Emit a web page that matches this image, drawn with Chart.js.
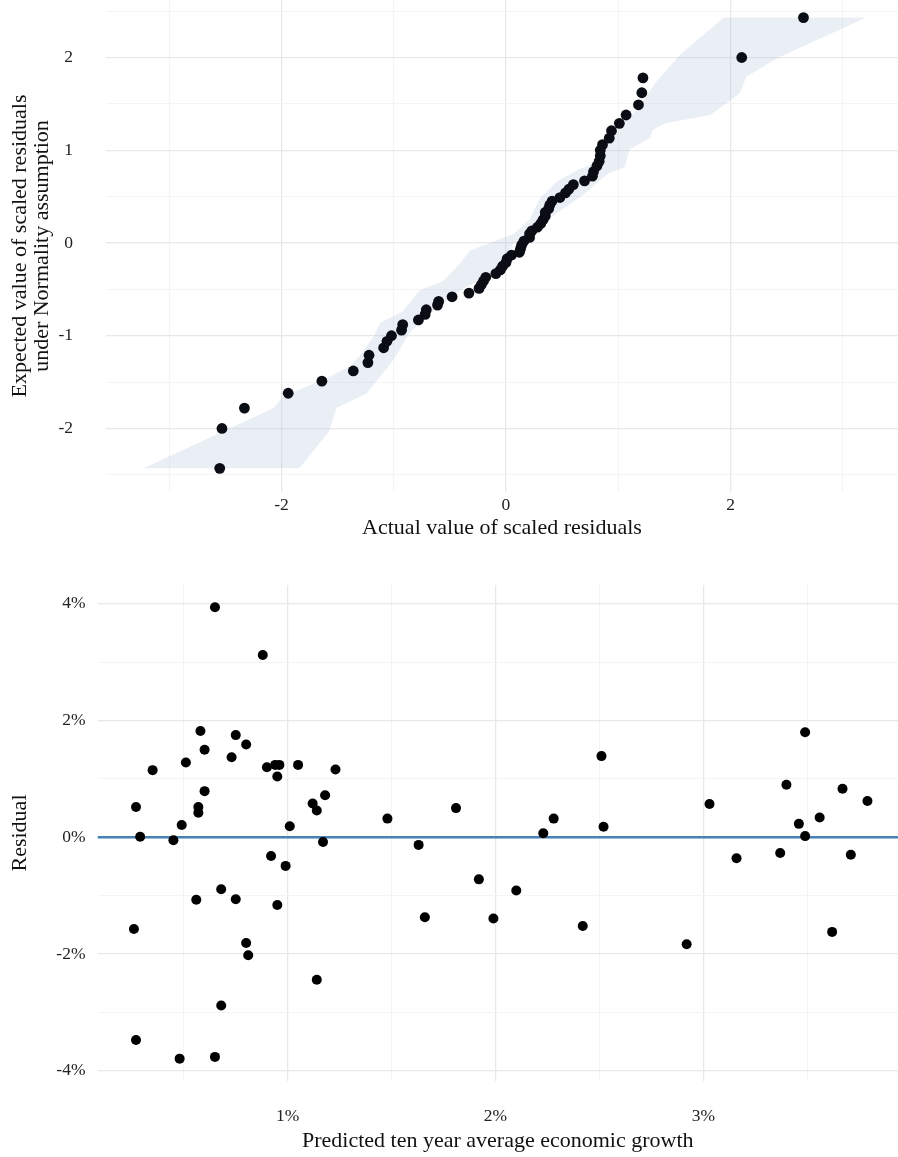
<!DOCTYPE html>
<html>
<head>
<meta charset="utf-8">
<script src="https://cdn.jsdelivr.net/npm/chart.js@4.4.1/dist/chart.umd.min.js"></script>
<style>
  html, body { margin: 0; padding: 0; background: #fff; }
  body { width: 898px; height: 1157px; position: relative; overflow: hidden; }
  .box { position: absolute; left: 0; width: 898px; }
  #qqBox { top: -45px; height: 590px; }
  #resBox { top: 545px; height: 612px; }
</style>
</head>
<body>
<div class="box" id="qqBox"><canvas id="qqChart"></canvas></div>
<div class="box" id="resBox"><canvas id="resChart"></canvas></div>
<script>
// Q-Q plot: sorted scaled residuals (x) against normal quantiles (y)
const qqActual = [
  -2.55, -2.53, -2.33, -1.94, -1.64, -1.36, -1.23, -1.22, -1.09, -1.06, -1.02,
  -0.93, -0.92, -0.78, -0.72, -0.71, -0.61, -0.60, -0.48, -0.33, -0.24, -0.22,
  -0.20, -0.18, -0.09, -0.05, -0.03, 0.00, 0.01, 0.05, 0.12, 0.13, 0.14,
  0.16, 0.21, 0.21, 0.23, 0.28, 0.31, 0.33, 0.35, 0.35, 0.38, 0.39,
  0.41, 0.48, 0.53, 0.56, 0.60, 0.70, 0.77, 0.78, 0.81, 0.83, 0.84,
  0.84, 0.86, 0.92, 0.94, 1.01, 1.07, 1.18, 1.21, 1.22, 2.10, 2.65
];
const qqExpected = [
  -2.43, -2.00, -1.78, -1.62, -1.49, -1.38, -1.29, -1.21, -1.13, -1.06, -1.00,
  -0.94, -0.88, -0.83, -0.77, -0.72, -0.67, -0.63, -0.58, -0.54, -0.49, -0.45,
  -0.41, -0.37, -0.33, -0.29, -0.25, -0.21, -0.17, -0.13, -0.10, -0.06, -0.02,
  0.02, 0.06, 0.10, 0.13, 0.17, 0.21, 0.25, 0.29, 0.33, 0.37, 0.41,
  0.45, 0.49, 0.54, 0.58, 0.63, 0.67, 0.72, 0.77, 0.83, 0.88, 0.94,
  1.00, 1.06, 1.13, 1.21, 1.29, 1.38, 1.49, 1.62, 1.78, 2.00, 2.43
];

// confidence band: left edge and right edge, both bottom to top
const bandLeftY = [-2.43, -1.78, -1.66, -1.44, -1.33, -1.21, -1.01, -0.86, -0.74, -0.51, -0.41, -0.22, -0.08,
  0.03, 0.10, 0.25, 0.48, 0.66, 0.80, 0.86, 1.08, 1.43, 1.74, 2.03, 2.43];
const bandLeftX = [-3.23, -2.07, -1.99, -1.57, -1.39, -1.30, -1.18, -1.12, -0.92, -0.77, -0.56, -0.41, -0.32,
  -0.08, 0.07, 0.21, 0.30, 0.45, 0.66, 0.80, 0.90, 1.16, 1.34, 1.55, 1.94];
const bandRightY = [-2.43, -2.04, -1.78, -1.62, -1.44, -1.26, -0.97, -0.83, -0.65, -0.47, -0.36, -0.17, 0.00,
  0.10, 0.25, 0.39, 0.55, 0.74, 0.82, 1.01, 1.13, 1.22, 1.29, 1.38, 1.61, 1.79, 1.99, 2.43];
const bandRightX = [-1.84, -1.58, -1.51, -1.24, -1.12, -1.00, -0.86, -0.74, -0.56, -0.35, -0.14, -0.02, 0.07,
  0.21, 0.36, 0.54, 0.72, 0.90, 1.06, 1.10, 1.28, 1.31, 1.42, 1.82, 2.08, 2.14, 2.41, 3.21];

const qqXTicks = [-3, -2, -1, 0, 1, 2, 3];
const qqXLabels = [-2, 0, 2];
const qqYTicks = [-2.5, -2, -1.5, -1, -0.5, 0, 0.5, 1, 1.5, 2, 2.5];
const qqYLabels = [-2, -1, 0, 1, 2];

// residuals vs predicted growth (percent)
const predictedGrowth = [
  0.65, 0.88, 0.58, 0.75, 0.80, 0.60, 0.51, 0.73, 0.35, 0.90, 0.94,
  0.96, 0.95, 1.05, 1.23, 0.60, 0.57, 0.57, 0.27, 0.49, 0.29, 0.45,
  1.12, 1.14, 1.18, 1.01, 1.17, 1.48, 1.63, 1.81, 0.92, 0.99, 0.68,
  0.56, 0.75, 0.95, 0.26, 1.66, 1.92, 1.99, 0.80, 0.81, 1.14, 0.68,
  0.27, 0.48, 0.65, 2.51, 3.49, 3.03, 2.28, 2.23, 2.52, 3.40, 3.67,
  3.79, 3.46, 3.56, 3.49, 3.16, 3.37, 3.71, 2.10, 2.42, 2.92, 3.62
];
const residual = [
  3.94, 3.12, 1.82, 1.75, 1.59, 1.50, 1.28, 1.37, 1.15, 1.20, 1.24,
  1.24, 1.04, 1.24, 1.16, 0.79, 0.52, 0.42, 0.52, 0.21, 0.01, -0.05,
  0.58, 0.46, 0.72, 0.19, -0.08, 0.32, -0.13, 0.50, -0.32, -0.49, -0.89,
  -1.07, -1.06, -1.16, -1.57, -1.37, -0.72, -1.39, -1.81, -2.02, -2.44, -2.88,
  -3.47, -3.79, -3.76, 1.39, 1.80, 0.57, 0.32, 0.07, 0.18, 0.90, 0.83,
  0.62, 0.23, 0.34, 0.02, -0.36, -0.27, -0.30, -0.91, -1.52, -1.83, -1.62
];
const zeroLevel = 0;

const resXTicks = [0.5, 1, 1.5, 2, 2.5, 3, 3.5];
const resXLabels = [1, 2, 3];
const resYTicks = [-4, -3, -2, -1, 0, 1, 2, 3, 4];
const resYLabels = [-4, -2, 0, 2, 4];

Chart.defaults.font.family = "'Liberation Serif', 'Times New Roman', serif";
Chart.defaults.color = '#222';

const tickFont = { size: 17.5 };
const titleFont = { size: 22, lineHeight: 1 };

function makeAxis(tickList, labelList, fmt, cfg) {
  return {
    type: 'linear',
    min: cfg.min,
    max: cfg.max,
    afterBuildTicks: axis => { axis.ticks = tickList.map(v => ({ value: v })); },
    afterFit: axis => {
      if (cfg.width) axis.width = cfg.width;
      if (cfg.height) axis.height = cfg.height;
    },
    border: { display: false },
    grid: {
      drawTicks: false,
      color: c => labelList.includes(c.tick.value) ? '#e8e8e8' : '#f4f4f4',
      lineWidth: c => labelList.includes(c.tick.value) ? 1.3 : 1
    },
    ticks: {
      padding: cfg.pad,
      font: tickFont,
      color: '#222',
      autoSkip: false,
      maxRotation: 0,
      callback: v => labelList.includes(v) ? fmt(v) : ''
    },
    title: {
      display: true,
      text: cfg.title,
      font: titleFont,
      color: '#111',
      padding: cfg.titlePad
    }
  };
}

// band polygon: up the left edge, back down the right edge
const bandShape = bandLeftX.map((x, i) => ({ x: x, y: bandLeftY[i] }))
  .concat(bandRightX.map((x, i) => ({ x: x, y: bandRightY[i] })).reverse());

new Chart(document.getElementById('qqChart'), {
  type: 'scatter',
  data: {
    datasets: [
      {
        data: qqActual.map((x, i) => ({ x: x, y: qqExpected[i] })),
        backgroundColor: '#0a0d14',
        borderWidth: 0,
        pointRadius: 5.4
      },
      {
        data: bandShape,
        showLine: true,
        fill: 'shape',
        backgroundColor: 'rgba(176,196,222,0.27)',
        borderWidth: 0,
        pointRadius: 0
      }
    ]
  },
  options: {
    responsive: true,
    maintainAspectRatio: false,
    animation: false,
    events: [],
    layout: { autoPadding: false, padding: { top: 45, right: 0, left: 0, bottom: 0 } },
    plugins: { legend: { display: false }, tooltip: { enabled: false } },
    scales: {
      x: makeAxis(qqXTicks, qqXLabels, v => String(v), {
        min: -3.563, max: 3.492, height: 53, pad: 3,
        title: 'Actual value of scaled residuals', titlePad: { top: 0, bottom: 6 }
      }),
      y: makeAxis(qqYTicks, qqYLabels, v => String(v), {
        min: -2.685, max: 2.62, width: 106, pad: 33,
        title: ['Expected value of scaled residuals', 'under Normality assumption'],
        titlePad: { top: 9, bottom: 0 }
      })
    }
  }
});

new Chart(document.getElementById('resChart'), {
  type: 'scatter',
  data: {
    datasets: [
      {
        data: predictedGrowth.map((x, i) => ({ x: x, y: residual[i] })),
        backgroundColor: '#000',
        borderWidth: 0,
        pointRadius: 5
      },
      {
        data: [{ x: 0.0847, y: zeroLevel }, { x: 3.937, y: zeroLevel }],
        showLine: true,
        borderColor: '#4682b4',
        borderWidth: 2.4,
        pointRadius: 0
      }
    ]
  },
  options: {
    responsive: true,
    maintainAspectRatio: false,
    animation: false,
    events: [],
    layout: { autoPadding: false, padding: { top: 40, right: 0, left: 0, bottom: 0 } },
    plugins: { legend: { display: false }, tooltip: { enabled: false } },
    scales: {
      x: makeAxis(resXTicks, resXLabels, v => v + '%', {
        min: 0.0847, max: 3.937, height: 76, pad: 25,
        title: 'Predicted ten year average economic growth', titlePad: { top: 0, bottom: 5 }
      }),
      y: makeAxis(resYTicks, resYLabels, v => v + '%', {
        min: -4.173, max: 4.32, width: 97.5, pad: 12,
        title: 'Residual', titlePad: { top: 9, bottom: 0 }
      })
    }
  }
});
</script>
</body>
</html>
